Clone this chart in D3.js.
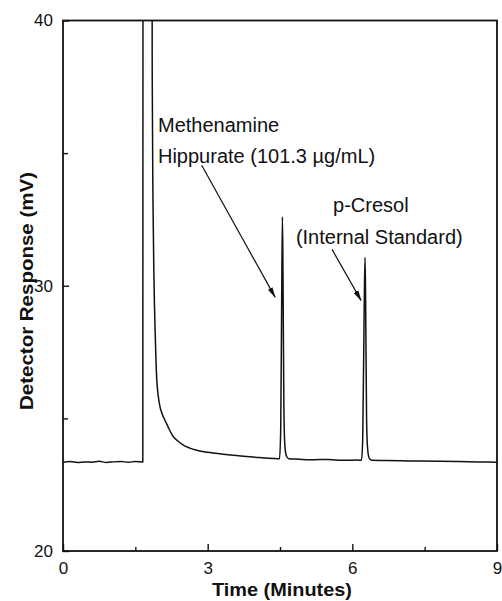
<!DOCTYPE html>
<html>
<head>
<meta charset="utf-8">
<script src="https://cdn.jsdelivr.net/npm/d3@7"></script>
<style>
body { margin: 0; background: #fff; }
svg text { font-family: Arial, "Liberation Sans", Helvetica, sans-serif; fill: #111; }
</style>
</head>
<body>
<div id="chart"></div>
<script>
// chromatogram trace, values (minutes, mV)
const times = [0, 0.15, 0.3, 0.45, 0.6, 0.75, 0.9, 1.05, 1.2, 1.35, 1.5, 1.655,
    1.66, 1.845, 1.85, 1.866, 1.887, 1.915, 1.943, 1.975, 2.012, 2.06, 2.115, 2.2, 2.287, 2.4, 2.495, 2.63, 2.773,
    3.0, 3.324, 3.6, 3.878, 4.1, 4.361, 4.49,
    4.515, 4.535, 4.55, 4.562, 4.58, 4.6, 4.63, 4.68,
    4.9, 5.2, 5.5, 5.8, 6.1, 6.19,
    6.215, 6.245, 6.263, 6.275, 6.295, 6.315, 6.35, 6.4,
    6.7, 7.0, 7.4, 7.8, 8.2, 8.6, 9.0];
const response = [23.35, 23.37, 23.34, 23.36, 23.35, 23.38, 23.34, 23.36, 23.37, 23.35, 23.37, 23.36,
    48, 48, 38, 33.2, 30.2, 28.0, 26.5, 25.85, 25.43, 25.15, 24.93, 24.6, 24.31, 24.12, 23.99, 23.88, 23.80,
    23.72, 23.65, 23.60, 23.55, 23.52, 23.49, 23.48,
    24.6, 29.5, 32.6, 30.5, 25.5, 24.0, 23.6, 23.48,
    23.46, 23.44, 23.45, 23.42, 23.43, 23.42,
    24.2, 29.0, 31.07, 29.6, 25.0, 23.9, 23.5, 23.42,
    23.41, 23.40, 23.39, 23.38, 23.37, 23.36, 23.35];

const xMajor = [0, 3, 6, 9], xMinor = [1.5, 4.5, 7.5];
const yMajor = [20, 30, 40], yMinor = [25, 35];

// annotation text (time, mV of text start)
const noteText = ["Methenamine", "Hippurate (101.3 \u00b5g/mL)", "p-Cresol", "(Internal Standard)"];
const noteTime = [1.97, 1.97, 5.6, 4.83];
const noteMv = [35.79, 34.61, 32.78, 31.59];

// arrows: from -> to
const arrowFrom = [[2.876, 34.54], [5.579, 31.37]];
const arrowTo = [[4.397, 29.57], [6.18, 29.45]];

const margin = {top: 20.5, right: 5, bottom: 50, left: 63},
    width = 502 - margin.left - margin.right,
    height = 601 - margin.top - margin.bottom;

const svg = d3.select("#chart")
    .append("svg")
    .attr("width", 502)
    .attr("height", 601);

const g = svg.append("g")
    .attr("transform", `translate(${margin.left}, ${margin.top})`);

const x = d3.scaleLinear().domain([0, 9]).range([0, width]);
const y = d3.scaleLinear().domain([20, 40]).range([height, 0]);

const defs = svg.append("defs");
defs.append("clipPath").attr("id", "plotclip")
    .append("rect").attr("width", width).attr("height", height);

defs.append("marker")
    .attr("id", "head")
    .attr("markerUnits", "userSpaceOnUse")
    .attr("viewBox", "0 -3 11 6")
    .attr("refX", 10).attr("refY", 0)
    .attr("markerWidth", 11).attr("markerHeight", 6)
    .attr("orient", "auto")
    .append("path").attr("d", "M0,-2.6L11,0L0,2.6Z").attr("fill", "#111");

// axes (ticks point inward)
function styleAxis(sel) {
    sel.select(".domain").remove();
    sel.selectAll("line").attr("stroke", "#111").attr("stroke-width", 1.4);
    sel.selectAll("text").attr("font-size", "17px").attr("fill", "#111")
        .attr("font-family", "Arial, 'Liberation Sans', sans-serif");
}

g.append("g").attr("transform", `translate(0, ${height})`)
    .call(d3.axisBottom(x).tickValues(xMajor).tickSize(-7).tickPadding(11).tickFormat(d3.format("d")))
    .call(styleAxis);
g.append("g").attr("transform", `translate(0, ${height})`)
    .call(d3.axisBottom(x).tickValues(xMinor).tickSize(-4).tickFormat(""))
    .call(styleAxis);
g.append("g")
    .call(d3.axisLeft(y).tickValues(yMajor).tickSize(-6).tickPadding(10).tickFormat(d3.format("d")))
    .call(styleAxis);
g.append("g")
    .call(d3.axisLeft(y).tickValues(yMinor).tickSize(-5).tickFormat(""))
    .call(styleAxis);

// trace
const line = d3.line()
    .x((d, i) => x(times[i]))
    .y(d => y(d))
    .curve(d3.curveMonotoneX);

g.append("path")
    .datum(response)
    .attr("clip-path", "url(#plotclip)")
    .attr("fill", "none")
    .attr("stroke", "#111")
    .attr("stroke-width", 1.5)
    .attr("stroke-linejoin", "round")
    .attr("d", line);

// frame
g.append("rect")
    .attr("width", width).attr("height", height)
    .attr("fill", "none").attr("stroke", "#111").attr("stroke-width", 1.8);

// annotations
g.selectAll(".note")
    .data(noteText)
    .enter().append("text")
    .attr("class", "note")
    .attr("x", (d, i) => x(noteTime[i]))
    .attr("y", (d, i) => y(noteMv[i]))
    .attr("font-size", "20px")
    .text(d => d);

g.selectAll(".arrow")
    .data(arrowFrom)
    .enter().append("line")
    .attr("class", "arrow")
    .attr("x1", d => x(d[0])).attr("y1", d => y(d[1]))
    .attr("x2", (d, i) => x(arrowTo[i][0])).attr("y2", (d, i) => y(arrowTo[i][1]))
    .attr("stroke", "#111").attr("stroke-width", 1.2)
    .attr("marker-end", "url(#head)");

// axis titles
g.append("text")
    .attr("x", width / 2 + 2)
    .attr("y", height + 45)
    .attr("text-anchor", "middle")
    .attr("font-size", "19px").attr("font-weight", "bold")
    .attr("textLength", 140).attr("lengthAdjust", "spacingAndGlyphs")
    .text("Time (Minutes)");

g.append("text")
    .attr("transform", "rotate(-90)")
    .attr("x", -(291 - margin.top))
    .attr("y", 33 - margin.left)
    .attr("text-anchor", "middle")
    .attr("font-size", "19px").attr("font-weight", "bold")
    .attr("textLength", 238).attr("lengthAdjust", "spacingAndGlyphs")
    .text("Detector Response (mV)");
</script>
</body>
</html>
